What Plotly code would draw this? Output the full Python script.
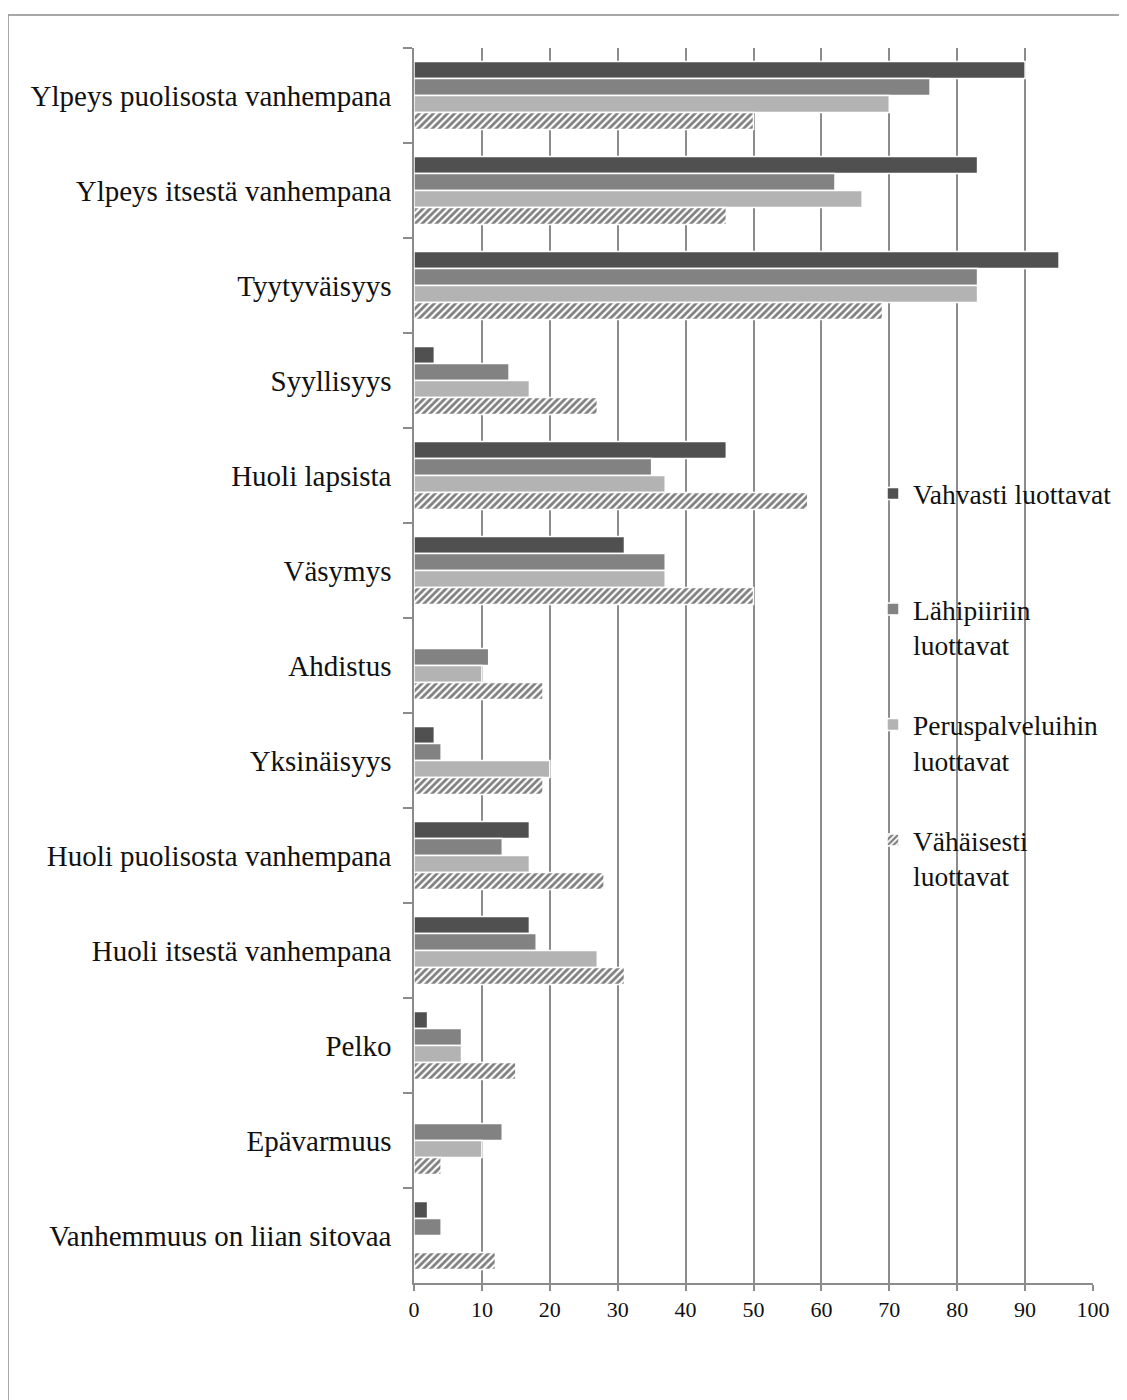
import plotly.graph_objects as go

categories = [
    "Ylpeys puolisosta vanhempana",
    "Ylpeys itsestä vanhempana",
    "Tyytyväisyys",
    "Syyllisyys",
    "Huoli lapsista",
    "Väsymys",
    "Ahdistus",
    "Yksinäisyys",
    "Huoli puolisosta vanhempana",
    "Huoli itsestä vanhempana",
    "Pelko",
    "Epävarmuus",
    "Vanhemmuus on liian sitovaa",
]

vahvasti = [90, 83, 95, 3, 46, 31, None, 3, 17, 17, 2, None, 2]
lahipiiri = [76, 62, 83, 14, 35, 37, 11, 4, 13, 18, 7, 13, 4]
peruspalvelu = [70, 66, 83, 17, 37, 37, 10, 20, 17, 27, 7, 10, None]
vahaisesti = [50, 46, 69, 27, 58, 50, 19, 19, 28, 31, 15, 4, 12]

series_names = [
    "Vahvasti luottavat<br>\u00a0",
    "Lähipiiriin<br>luottavat",
    "Peruspalveluihin<br>luottavat",
    "Vähäisesti<br>luottavat",
]

x_ticks = [0, 10, 20, 30, 40, 50, 60, 70, 80, 90, 100]

FONT = "Liberation Serif"
W, H = 1127, 1400
PAGE_OFF = 8  # browser body margin
# target plot area in page pixels
PL, PR, PT, PB = 414, 1093, 48, 1283
ML = PL - PAGE_OFF
MT = PT - PAGE_OFF
MR = (PAGE_OFF + W) - PR
MB = (PAGE_OFF + H) - PB
PW = PR - PL
PH = PB - PT

fig = go.Figure()
styles = [
    dict(color="#505050"),
    dict(color="#828282"),
    dict(color="#b3b3b3"),
    dict(color="white", pattern=dict(shape="/", fgcolor="black", bgcolor="white", size=5, solidity=0.55)),
]
for i, (name, vals) in enumerate(zip(series_names, [vahvasti, lahipiiri, peruspalvelu, vahaisesti])):
    fig.add_trace(go.Bar(
        y=categories, x=vals, name=name, orientation="h",
        marker=dict(**styles[i], line=dict(color="white", width=1.5)),
        legendgroup=f"g{i}",
    ))

def px_to_paper_x(px):
    return (px - PL) / PW

def px_to_paper_y(py):
    return (PB - py) / PH

fig.update_layout(
    width=W, height=H,
    margin=dict(l=ML, r=MR, t=MT, b=MB, autoexpand=False),
    paper_bgcolor="white", plot_bgcolor="white",
    barmode="group", bargap=0.284, bargroupgap=0,
    font=dict(family=FONT, size=28, color="#111111"),
    legend=dict(
        x=px_to_paper_x(873), y=px_to_paper_y(469), xanchor="left", yanchor="top",
        bgcolor="rgba(0,0,0,0)", traceorder="grouped", tracegroupgap=41,
        valign="top", font=dict(family=FONT, size=27.5, color="#111111"),
    ),
    xaxis=dict(
        range=[0, 100], tickvals=x_ticks, ticktext=[str(v) for v in x_ticks],
        showgrid=True, gridcolor="#8c8c8c", gridwidth=1.5,
        showline=True, linecolor="#8c8c8c", linewidth=1.5,
        ticks="outside", ticklen=6, tickcolor="#8c8c8c", tickwidth=1.5,
        tickfont=dict(family=FONT, size=22, color="#111111"),
        zeroline=False, ticklabelstandoff=0,
    ),
    yaxis=dict(
        autorange="reversed", type="category",
        showgrid=False, showline=True, linecolor="#8c8c8c", linewidth=1.5,
        ticks="outside", ticklen=9, tickcolor="#8c8c8c", tickwidth=1.5,
        tickson="boundaries", ticklabelstandoff=15,
        tickfont=dict(family=FONT, size=29, color="#111111"),
    ),
    shapes=[dict(
        type="rect", xref="paper", yref="paper",
        x0=px_to_paper_x(8), x1=px_to_paper_x(1200),
        y0=px_to_paper_y(1450), y1=px_to_paper_y(15),
        line=dict(color="#8c8c8c", width=1.5), fillcolor="rgba(0,0,0,0)", layer="below",
    )],
)

fig.write_html("out.html")
